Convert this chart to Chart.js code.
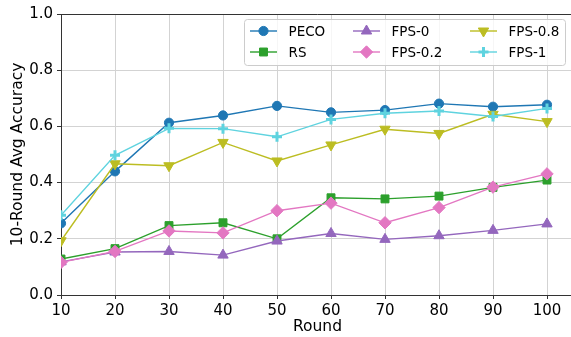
<!DOCTYPE html>
<html>
<head>
<meta charset="utf-8">
<script src="https://cdn.jsdelivr.net/npm/chart.js@4/dist/chart.umd.min.js"></script>
<style>
  html, body { margin: 0; padding: 0; background: #fff; overflow: hidden; }
  #wrap { width: 582px; height: 337px; }
</style>
</head>
<body>
<div id="wrap"><canvas id="accChart"></canvas></div>
<script>
const rounds = [10, 20, 30, 40, 50, 60, 70, 80, 90, 100];
const yTicks = [0, 0.2, 0.4, 0.6, 0.8, 1.0];

const peco   = [0.255, 0.440, 0.613, 0.639, 0.673, 0.650, 0.658, 0.681, 0.670, 0.677];
const rs     = [0.128, 0.165, 0.247, 0.257, 0.200, 0.346, 0.342, 0.352, 0.383, 0.409];
const fps0   = [0.118, 0.153, 0.155, 0.142, 0.192, 0.219, 0.198, 0.211, 0.230, 0.253];
const fps02  = [0.116, 0.155, 0.228, 0.221, 0.300, 0.327, 0.257, 0.311, 0.384, 0.431];
const fps08  = [0.193, 0.467, 0.460, 0.543, 0.477, 0.534, 0.590, 0.575, 0.643, 0.617];
const fps1   = [0.284, 0.497, 0.593, 0.592, 0.563, 0.625, 0.647, 0.655, 0.635, 0.664];

const FONT = "'DejaVu Sans', sans-serif";

function series(label, values, color, style, radius, extra) {
    return Object.assign({
        label: label,
        data: values.map((v, i) => ({ x: rounds[i], y: v })),
        borderColor: color,
        backgroundColor: color,
        pointBackgroundColor: color,
        pointBorderColor: color,
        borderWidth: 1.4,
        pointStyle: style,
        pointRadius: radius,
        pointHoverRadius: radius,
        pointBorderWidth: 1,
        tension: 0
    }, extra || {});
}

const datasets = [
    series('PECO', peco, '#1f77b4', 'circle', 4.6),
    series('RS', rs, '#2ca02c', 'rect', 5.6),
    series('FPS-0', fps0, '#9467bd', 'triangle', 6),
    series('FPS-0.2', fps02, '#e377c2', 'rectRot', 6.2),
    series('FPS-0.8', fps08, '#bcbd22', 'triangle', 6, { pointRotation: 180 }),
    series('FPS-1', fps1, '#5fd3df', 'cross', 5, { pointBorderWidth: 3 })
];
// later series drawn on top
datasets.forEach((d, i) => { d.order = datasets.length - i; });

// top spine
const frameTop = {
    id: 'frameTop',
    afterDraw(chart) {
        const { ctx, chartArea } = chart;
        ctx.save();
        ctx.strokeStyle = '#333';
        ctx.lineWidth = 1;
        ctx.beginPath();
        ctx.moveTo(chartArea.left, chartArea.top + 0.5);
        ctx.lineTo(chartArea.right, chartArea.top + 0.5);
        ctx.stroke();
        ctx.restore();
    }
};

// three-column legend, filled column by column
const columnLegend = {
    id: 'columnLegend',
    afterDraw(chart) {
        const { ctx } = chart;
        const sets = chart.data.datasets;
        const boxX = 244, boxY = 19, boxW = 321, boxH = 46;
        const colX = [250, 353, 470];
        const rowY = [31, 52];
        ctx.save();
        ctx.fillStyle = 'rgba(255,255,255,0.8)';
        ctx.strokeStyle = '#cccccc';
        ctx.lineWidth = 1;
        ctx.beginPath();
        ctx.roundRect(boxX + 0.5, boxY + 0.5, boxW, boxH, 3);
        ctx.fill();
        ctx.stroke();

        ctx.font = '13.5px ' + FONT;
        ctx.textBaseline = 'middle';
        ctx.textAlign = 'left';
        sets.forEach((d, i) => {
            const x = colX[Math.floor(i / 2)];
            const y = rowY[i % 2];
            ctx.strokeStyle = d.borderColor;
            ctx.lineWidth = d.borderWidth;
            ctx.beginPath();
            ctx.moveTo(x, y);
            ctx.lineTo(x + 27, y);
            ctx.stroke();
            ctx.fillStyle = d.pointBackgroundColor;
            ctx.strokeStyle = d.pointBorderColor;
            ctx.lineWidth = d.pointBorderWidth;
            Chart.helpers.drawPoint(ctx, {
                pointStyle: d.pointStyle,
                radius: d.pointRadius,
                rotation: d.pointRotation || 0,
                borderWidth: d.pointBorderWidth
            }, x + 13.5, y);
            ctx.fillStyle = '#000';
            ctx.fillText(d.label, x + 38.5, y + 1);
        });
        ctx.restore();
    }
};

document.addEventListener('DOMContentLoaded', function () {
    const ctx = document.getElementById('accChart').getContext('2d');
    new Chart(ctx, {
        type: 'line',
        data: { datasets: datasets },
        options: {
            responsive: true,
            maintainAspectRatio: false,
            animation: false,
            layout: { padding: { top: 14, left: 0, right: 0, bottom: 0 } },
            plugins: {
                legend: { display: false },
                tooltip: { enabled: false }
            },
            scales: {
                x: {
                    type: 'linear',
                    min: 10,
                    max: 105,
                    afterBuildTicks: axis => { axis.ticks = rounds.map(v => ({ value: v })); },
                    afterFit: axis => { axis.height = 42; },
                    grid: { color: '#d3d3d3', tickColor: '#333', tickLength: 4, lineWidth: 1 },
                    border: { color: '#333', width: 1 },
                    ticks: { color: '#000', font: { family: FONT, size: 15 }, padding: 3, maxRotation: 0 },
                    title: { display: true, text: 'Round', color: '#000', font: { family: FONT, size: 15.5 }, padding: { top: 0, bottom: 1 } }
                },
                y: {
                    min: 0,
                    max: 1,
                    afterBuildTicks: axis => { axis.ticks = yTicks.map(v => ({ value: v })); },
                    afterFit: axis => { axis.width = 61; },
                    grid: { color: '#d3d3d3', tickColor: '#333', tickLength: 4, lineWidth: 1 },
                    border: { color: '#333', width: 1 },
                    ticks: { color: '#000', font: { family: FONT, size: 15 }, padding: 4, callback: v => v.toFixed(1) },
                    title: { display: true, text: '10-Round Avg Accuracy', color: '#000', font: { family: FONT, size: 15.5 }, padding: { top: 9, bottom: 0 } }
                }
            }
        },
        plugins: [frameTop, columnLegend]
    });
});
</script>
</body>
</html>
